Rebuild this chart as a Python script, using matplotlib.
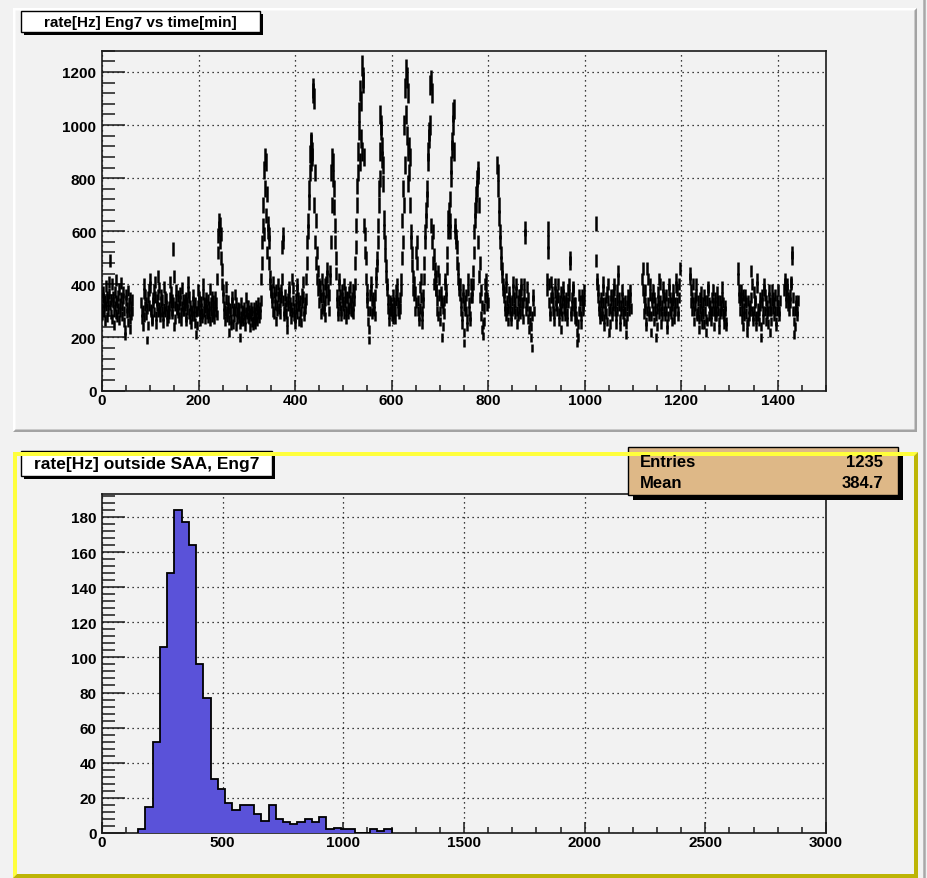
import numpy as np
import matplotlib
matplotlib.use("Agg")
import matplotlib.pyplot as plt
from matplotlib.patches import Rectangle, Polygon
from matplotlib.ticker import MultipleLocator

plt.rcParams['font.family'] = ['Liberation Sans', 'DejaVu Sans']
plt.rcParams['font.weight'] = 'bold'

# ---------------- rate vs time (one reading per minute, SAA passages removed)
sample_step_min = 1
segment_start_min = [0, 81, 819, 921, 1023, 1119, 1218, 1317, 1414]
segment_rates_hz = [
    # 0 - 63
    [310, 285, 350, 372, 330, 298, 262, 340, 395, 318, 352, 276, 301, 338, 410,
     365, 490, 322, 287, 344, 402, 268, 331, 355, 296, 247, 318, 372, 340, 289,
     415, 330, 276, 358, 309, 382, 264, 327, 296, 351, 405, 318, 282, 346, 371,
     300, 259, 228, 205, 338, 362, 291, 314, 377, 256, 330, 295, 348, 270, 232,
     318, 286, 341, 300],
    # 81 - 799
    [330, 295, 268, 301, 240, 276, 402, 365, 318, 359, 330, 285, 310, 190, 245,
     352, 380, 321, 420, 389, 305, 298, 262, 271, 330, 348, 296, 380, 352, 410,
     250, 281, 318, 341, 362, 295, 430, 388, 312, 300, 276, 335, 362, 341, 298,
     280, 255, 310, 390, 352, 298, 320, 346, 288, 260, 302, 275, 318, 290, 350,
     410, 372, 330, 300, 288, 341, 330, 534, 430, 240, 270, 318, 380, 342, 306,
     310, 356, 291, 275, 322, 368, 340, 296, 262, 318, 385, 344, 300, 329,
     300, 342, 318, 350, 276, 262, 330, 305, 371, 410, 352, 290, 268, 320, 301,
     250, 281, 300, 336, 360, 312, 280, 255, 330, 298, 210, 245, 300, 322, 380,
     354, 340, 301, 260, 288, 310, 335, 290, 272, 400, 362, 330, 298, 270, 311,
     350, 326, 290, 305, 274, 342, 318, 290, 262, 381, 330, 300, 276, 355, 312,
     287, 340, 300, 268, 320, 352, 296, 330, 284,
     420, 520, 585, 640, 610, 560, 625, 590, 500, 455, 400, 380,
     350, 318, 290, 262, 301, 390, 342, 300, 276, 288, 340, 312, 220, 265, 310,
     296, 270, 245, 330, 352, 300, 250, 276, 310, 300, 362, 331, 240, 270, 295,
     290, 315, 272, 310, 200, 248, 280, 262, 330, 301, 275, 260, 300, 286, 312,
     240, 268, 295, 350, 322, 290, 275, 320, 301, 268, 236, 290, 312, 280, 258,
     300, 262, 244, 285, 312, 270, 296, 250, 278, 320, 305, 262, 290, 330, 300,
     272, 315, 288, 340,
     420, 560, 480, 620, 700, 590, 830, 760, 880, 860, 660, 740, 520, 600, 630,
     560, 480, 590, 400, 430, 370,
     380, 350, 330, 298, 410, 372, 290, 325, 350, 380, 262, 300, 320, 355, 400,
     368, 310, 290, 330, 352, 380, 420, 540, 590, 560, 340, 300, 280, 315, 360,
     336, 290, 230, 262, 320, 345, 390, 372, 300, 330, 312, 270, 296, 420, 385,
     340, 310, 280, 250, 272, 310, 346, 380, 402, 290, 318, 350, 320, 262, 288,
     340, 300, 256, 330, 365, 410, 352, 300, 281, 330, 310, 345,
     420, 560, 480, 640, 600, 760, 710, 890, 820, 940, 930, 860, 880, 900, 1140,
     1120, 1100, 700, 820, 560, 640, 480, 520, 420, 450, 380, 400,
     330, 360, 392, 350, 290, 310, 420, 380, 350, 320, 300, 276, 340, 400, 372,
     410, 460, 430, 380, 342, 300, 360, 420, 450,
     560, 820, 700, 880, 800, 860, 690, 760, 560, 620, 440, 500,
     360, 332, 300, 280, 420, 398, 340, 318, 362, 280, 301, 350, 380, 336, 320,
     290, 400, 372, 330, 270, 300, 352, 350, 312, 290, 310, 372, 390, 340, 300,
     330, 296, 350, 380, 318, 290, 340, 372, 400,
     480, 620, 540, 770, 700, 900, 820, 1050, 980, 1130, 860, 1090, 950, 900, 1225,
     1180, 1160, 620, 880, 520, 590, 500,
     420, 380, 350, 330, 300, 260, 190, 230, 300, 360, 380, 410, 340, 290, 310,
     350, 330, 300, 280, 360, 410, 440, 470,
     500, 620, 560, 760, 700, 900, 800, 1040, 980, 1000, 870, 920, 780, 850, 600,
     650, 510, 560, 430, 470, 400,
     380, 342, 310, 290, 260, 300, 340, 330, 300, 310, 280, 270, 360, 330, 320,
     290, 270, 300, 340, 380, 400, 360, 330, 300, 320, 290, 310, 350, 380, 420,
     500, 640, 560, 760, 700, 1000, 850, 1140, 1040, 1210, 1180, 960, 1120, 780, 900,
     920, 820, 700, 880, 560, 600, 470, 520, 430,
     380, 360, 410, 372, 300, 330, 520, 560, 480, 340, 300, 280, 260, 310, 390,
     420, 350, 300, 250, 280, 330, 360, 420, 480, 560, 600, 640,
     680, 760, 720, 900, 860, 975, 950, 1150, 1000, 1170, 620, 1120, 560, 600, 480,
     510, 400, 420, 460, 380, 430,
     380, 340, 300, 280, 450, 420, 360, 260, 300, 340, 370, 330, 200, 240, 310,
     290, 340, 400, 420, 380, 350, 460, 520, 600,
     650, 620, 680, 600, 720, 640, 850, 800, 940, 910, 1050, 1000, 900, 1060, 600,
     620, 560, 580, 480, 540, 420, 460, 380, 400,
     400, 360, 330, 300, 250, 280, 380, 350, 320, 180, 220, 300, 340, 360, 300,
     240, 270, 420, 380, 330, 300, 280, 260, 350, 400, 380, 350, 400, 450, 520,
     600, 680, 640, 740, 700, 800, 760, 810, 830, 560, 700, 430, 480, 350, 380,
     280, 320, 230, 250, 205, 310, 260, 400, 350, 380, 420, 320, 350, 330],
    # 819 - 894
    [850, 760, 820, 650, 700, 560, 600, 480, 520, 430, 460, 380, 400, 350, 370,
     320, 300, 280, 420, 390, 340, 300, 260, 310, 350, 372, 330, 300, 280, 260,
     300, 340, 380, 410, 350, 310, 290, 330, 400, 372, 300, 250, 280, 340, 362,
     310, 290, 330, 360, 400, 380, 330, 300, 270, 330, 360, 400, 610, 580, 330,
     300, 320, 390, 350, 270, 300, 230, 260, 300, 240, 200, 160, 280, 340, 360,
     300],
    # 921 - 999
    [380, 420, 560, 610, 520, 400, 330, 300, 280, 350, 410, 372, 350, 330, 300,
     260, 290, 370, 400, 340, 320, 300, 360, 400, 350, 290, 260, 310, 340, 372,
     300, 230, 280, 330, 360, 390, 340, 310, 280, 300, 350, 330, 290, 260, 330,
     380, 400, 360, 500, 480, 300, 280, 320, 350, 380, 390, 330, 300, 270, 330,
     300, 260, 280, 220, 180, 200, 250, 300, 360, 340, 300, 250, 280, 340, 360,
     320, 300, 340, 380],
    # 1023 - 1095
    [630, 490, 420, 400, 380, 350, 320, 300, 270, 290, 350, 330, 300, 280, 410,
     380, 330, 240, 270, 300, 330, 350, 290, 260, 370, 400, 340, 300, 220, 250,
     310, 360, 340, 300, 280, 320, 360, 400, 380, 330, 300, 250, 280, 300, 340,
     380, 450, 420, 350, 320, 270, 240, 300, 320, 350, 380, 330, 290, 260, 300,
     340, 300, 250, 210, 280, 320, 360, 340, 300, 330, 380, 350, 310],
    # 1119 - 1197
    [420, 380, 460, 350, 290, 330, 380, 310, 260, 240, 300, 460, 420, 330, 280,
     300, 400, 360, 220, 280, 350, 330, 300, 380, 350, 260, 300, 330, 280, 200,
     240, 310, 370, 340, 290, 320, 420, 400, 340, 300, 250, 280, 320, 360, 390,
     350, 300, 280, 330, 360, 300, 250, 230, 280, 330, 380, 400, 350, 300, 330,
     290, 260, 320, 350, 380, 340, 300, 270, 300, 330, 390, 420, 380, 330, 300,
     280, 350, 400, 460],
    # 1218 - 1293
    [440, 420, 380, 330, 300, 350, 400, 330, 260, 300, 320, 350, 400, 360, 290,
     280, 340, 300, 230, 270, 310, 350, 370, 330, 280, 250, 300, 330, 290, 250,
     360, 340, 300, 270, 220, 260, 340, 380, 390, 330, 280, 300, 320, 290, 260,
     300, 350, 380, 330, 300, 240, 280, 320, 350, 300, 280, 330, 370, 340, 300,
     260, 230, 290, 340, 320, 300, 350, 390, 330, 290, 250, 280, 320, 300, 260,
     240],
    # 1317 - 1404
    [420, 460, 380, 350, 300, 340, 380, 350, 270, 300, 330, 360, 240, 280, 310,
     340, 360, 330, 290, 250, 220, 260, 340, 310, 280, 300, 320, 350, 450, 400,
     300, 280, 260, 300, 370, 340, 330, 280, 240, 270, 390, 420, 310, 280, 260,
     300, 350, 320, 200, 240, 330, 360, 300, 270, 380, 400, 360, 300, 260, 340,
     320, 290, 250, 300, 350, 380, 330, 300, 220, 260, 300, 340, 380, 350, 310,
     280, 330, 360, 300, 260, 240, 300, 340, 380, 320, 280, 300, 340],
    # 1414 - 1441
    [380, 420, 400, 360, 330, 400, 380, 350, 320, 300, 340, 330, 360, 410, 400,
     520, 500, 350, 300, 260, 210, 240, 300, 320, 340, 280, 300, 340],
]

# ---------------- rate histogram outside SAA (30 Hz bins starting at 150 Hz)
hist_first_edge = 150
hist_bin_width = 30
hist_counts = [2, 15, 52, 106, 148, 184, 177, 164, 96, 77,
               31, 25, 17, 13, 16, 16, 11, 7, 16, 8,
               6, 5, 6, 8, 6, 9, 2, 3, 2, 2,
               0, 0, 2, 1, 2]
stats_mean_label = "384.7"

top_title = "rate[Hz] Eng7 vs time[min]"
bottom_title = "rate[Hz] outside SAA, Eng7"

# ---------------------------------------------------------------- figure
W, H = 927, 879
PAD_GRAY = '#f2f2f2'
fig = plt.figure(figsize=(W / 100, H / 100), dpi=100)
fig.patch.set_facecolor(PAD_GRAY)

bg = fig.add_axes([0, 0, 1, 1], zorder=0)
bg.set_xlim(0, W); bg.set_ylim(H, 0); bg.axis('off')
fg = fig.add_axes([0, 0, 1, 1], zorder=5)
fg.set_xlim(0, W); fg.set_ylim(H, 0); fg.axis('off')
fg.patch.set_visible(False)


def bevel(ax, x0, y0, x1, y1, bw, light, dark):
    ax.add_patch(Polygon([(x0, y0), (x1, y0), (x1 - bw, y0 + bw), (x0 + bw, y0 + bw),
                          (x0 + bw, y1 - bw), (x0, y1)], closed=True,
                         facecolor=light, edgecolor='none'))
    ax.add_patch(Polygon([(x1, y1), (x0, y1), (x0 + bw, y1 - bw), (x1 - bw, y1 - bw),
                          (x1 - bw, y0 + bw), (x1, y0)], closed=True,
                         facecolor=dark, edgecolor='none'))


# canvas edge
bg.plot([924, 924], [0, H], color='#a8a8a8', lw=1.8, solid_capstyle='butt')

# top pad (gray bevel)
bevel(bg, 13, 9, 917, 433, 2.5, 'white', '#a3a3a3')


def titled_box(ax, x0, y0, x1, y1, text, size, fill='white', sh=3):
    ax.add_patch(Rectangle((x0 + sh, y0 + sh), x1 - x0, y1 - y0, facecolor='black',
                           edgecolor='none'))
    ax.add_patch(Rectangle((x0, y0), x1 - x0, y1 - y0, facecolor=fill,
                           edgecolor='black', lw=1.0))
    if text:
        ax.text((x0 + x1) / 2, (y0 + y1) / 2 + 0.5, text, ha='center', va='center',
                fontsize=size, fontweight='bold')


titled_box(fg, 21, 12, 260, 33, top_title, 11)
titled_box(fg, 21, 452, 272, 477, bottom_title, 12.5)

# statistics box
titled_box(fg, 628, 448, 898, 496, None, 12, fill='#deb887', sh=5)
hist_entries = int(np.sum(hist_counts))
fg.text(640, 463, "Entries", ha='left', va='center', fontsize=12, fontweight='bold')
fg.text(883, 463, f"{hist_entries}", ha='right', va='center', fontsize=12, fontweight='bold')
fg.text(640, 483.5, "Mean", ha='left', va='center', fontsize=12, fontweight='bold')
fg.text(883, 483.5, stats_mean_label, ha='right', va='center', fontsize=12,
        fontweight='bold')

# bottom pad (yellow bevel) drawn over box tops
bevel(fg, 13, 453, 918, 879, 4, '#ffff3c', '#bdb506')

# ---------------------------------------------------------------- axes
ax1 = fig.add_axes([102 / W, 1 - 391.5 / H, 724 / W, 339.8 / H], zorder=2)
ax2 = fig.add_axes([102 / W, 1 - 834 / H, 724 / W, 339.3 / H], zorder=2)


def style_axes(ax, xmaj, xmin, ymaj, ymin):
    ax.set_facecolor(PAD_GRAY)
    for side in ('left', 'bottom', 'right', 'top'):
        ax.spines[side].set_linewidth(1.2)
        ax.spines[side].set_color('#1a1a1a')
    ax.xaxis.set_major_locator(MultipleLocator(xmaj))
    ax.xaxis.set_minor_locator(MultipleLocator(xmin))
    ax.yaxis.set_major_locator(MultipleLocator(ymaj))
    ax.yaxis.set_minor_locator(MultipleLocator(ymin))
    ax.tick_params(axis='y', which='major', direction='in', length=16.5, width=1.1,
                   labelsize=11, pad=4, color='#1a1a1a')
    ax.tick_params(axis='y', which='minor', direction='in', length=9.0, width=1.1,
                   color='#1a1a1a')
    ax.tick_params(axis='x', which='major', direction='in', length=8.0, width=1.1,
                   labelsize=11, pad=1.5, color='#1a1a1a')
    ax.tick_params(axis='x', which='minor', direction='in', length=4.5, width=1.1,
                   color='#1a1a1a')
    for lab in ax.get_xticklabels() + ax.get_yticklabels():
        lab.set_fontweight('bold')
    ax.grid(True, which='major', color='black', linestyle=(0, (1, 3)), lw=0.9)
    ax.set_axisbelow(True)


# top: rate vs time with counting-statistics error bars
times = np.concatenate([s + sample_step_min * np.arange(len(v))
                        for s, v in zip(segment_start_min, segment_rates_hz)])
rates = np.concatenate([np.asarray(v, float) for v in segment_rates_hz])
rate_err = np.sqrt(rates * 1.3)
ax1.errorbar(times, rates, yerr=rate_err, fmt='none', ecolor='black',
             elinewidth=1.8, capsize=0, zorder=3)
ax1.set_xlim(0, 1500)
ax1.set_ylim(0, 1280)
style_axes(ax1, 200, 50, 200, 40)

# bottom: histogram
counts = np.asarray(hist_counts, float)
edges = hist_first_edge + hist_bin_width * np.arange(len(counts) + 1)
ax2.stairs(counts, edges, fill=True, color='#5a52d9', lw=0, zorder=3)
ax2.stairs(counts, edges, color='black', lw=1.3, baseline=0, zorder=4)
ax2.set_xlim(0, 3000)
ax2.set_ylim(0, counts.max() * 1.05)
style_axes(ax2, 500, 100, 20, 4)

fig.savefig('out.png', dpi=100, facecolor=fig.get_facecolor())
